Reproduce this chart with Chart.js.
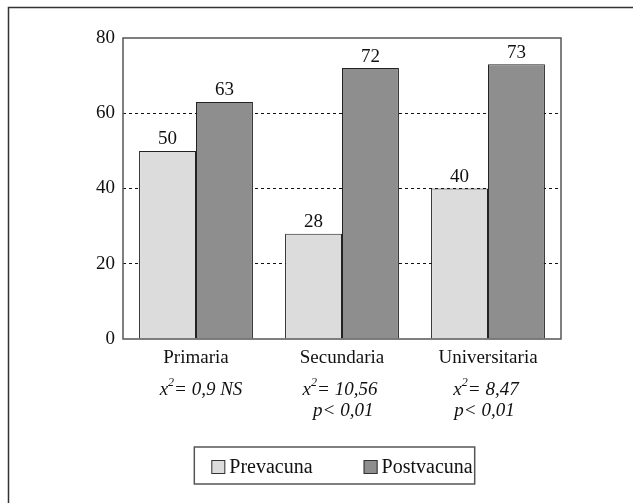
<!DOCTYPE html>
<html>
<head>
<meta charset="utf-8">
<script src="https://cdn.jsdelivr.net/npm/chart.js@4"></script>
<style>
  html, body { margin: 0; padding: 0; background: #fff; }
  #wrap { width: 633px; height: 503px; }
</style>
</head>
<body>
<div id="wrap"><canvas id="myChart" width="633" height="503"></canvas></div>
<script>
const categories = ['Primaria', 'Secundaria', 'Universitaria'];
const prevacuna = [50, 28, 40];
const postvacuna = [63, 72, 73];
const yTicks = [0, 20, 40, 60, 80];
// chi-square notes under each category
const chiValues = ['0,9 NS', '10,56', '8,47'];
const pValues = ['', 'p< 0,01', 'p< 0,01'];

const serif = '"Liberation Serif", "DejaVu Serif", serif';

// frame, plot box, value labels, chi notes and legend
const extras = {
  id: 'extras',
  afterDatasetsDraw(chart) {
    const c = chart.ctx;
    c.save();
    c.fillStyle = '#111';
    c.font = '19px ' + serif;
    c.textAlign = 'center';
    c.textBaseline = 'bottom';
    chart.data.datasets.forEach((ds, i) => {
      chart.getDatasetMeta(i).data.forEach((bar, j) => {
        c.fillText(ds.data[j], bar.x, bar.y - 2);
      });
    });
    c.restore();
  },
  afterDraw(chart) {
    const c = chart.ctx;
    const a = chart.chartArea;
    c.save();
    // outer frame (only top and left fall inside the picture)
    c.strokeStyle = '#333';
    c.lineWidth = 1.5;
    c.strokeRect(8.5, 7.5, 700, 600);
    // plot box
    c.strokeStyle = '#555';
    c.lineWidth = 1.5;
    c.strokeRect(a.left, a.top, a.right - a.left, a.bottom - a.top);

    // chi-square notes
    const xs = chart.scales.x;
    c.fillStyle = '#111';
    c.textBaseline = 'middle';
    const big = 'italic 19px ' + serif;
    const small = 'italic 12px ' + serif;
    categories.forEach((cat, i) => {
      const cx = xs.getPixelForValue(i);
      c.font = big;
      const wx = c.measureText('x').width;
      const rest = '= ' + chiValues[i];
      const wr = c.measureText(rest).width;
      c.font = small;
      const w2 = c.measureText('2').width;
      const total = wx + w2 + wr;
      const x0 = cx - total / 2 + (i === 0 ? 5 : -2);
      const y1 = 390, y2 = 411;
      c.textAlign = 'left';
      c.font = big;
      c.fillText('x', x0, y1);
      c.font = small;
      c.fillText('2', x0 + wx, y1 - 7);
      c.font = big;
      c.fillText(rest, x0 + wx + w2, y1);
      if (pValues[i]) {
        c.textAlign = 'right';
        c.fillText(pValues[i], x0 + total - 4, y2);
      }
    });

    // legend
    c.font = '20px ' + serif;
    const items = chart.data.datasets.map(ds => ({
      label: ds.label, fill: ds.backgroundColor, w: c.measureText(ds.label).width
    }));
    const box = 14, gapText = 4, gapItem = 51;
    let width = 0;
    items.forEach((it, k) => { width += box + gapText + it.w + (k ? gapItem : 0); });
    let lx = (a.left + a.right) / 2 - width / 2;
    const ly = 467;
    c.strokeStyle = '#555';
    c.lineWidth = 1.5;
    c.strokeRect(lx - 17, 447, width + 19, 37);
    c.textAlign = 'left';
    items.forEach(it => {
      c.fillStyle = it.fill;
      c.fillRect(lx, ly - box / 2, box, box);
      c.strokeStyle = '#333';
      c.lineWidth = 1;
      c.strokeRect(lx + 0.5, ly - box / 2 + 0.5, box - 1, box - 1);
      c.fillStyle = '#111';
      c.fillText(it.label, lx + box + gapText, ly + 1);
      lx += box + gapText + it.w + gapItem;
    });
    c.restore();
  }
};

new Chart(document.getElementById('myChart'), {
  type: 'bar',
  data: {
    labels: categories,
    datasets: [{
      label: 'Prevacuna',
      data: prevacuna,
      backgroundColor: '#dcdcdc',
      borderColor: '#222',
      borderWidth: 1
    }, {
      label: 'Postvacuna',
      data: postvacuna,
      backgroundColor: '#8e8e8e',
      borderColor: '#222',
      borderWidth: 1
    }]
  },
  options: {
    responsive: false,
    animation: false,
    events: [],
    layout: { padding: { top: 38, right: 72, left: 0, bottom: 0 } },
    datasets: { bar: { categoryPercentage: 0.78, barPercentage: 1 } },
    plugins: { legend: { display: false }, tooltip: { enabled: false } },
    scales: {
      x: {
        afterFit(s) { s.height = 164; },
        grid: { display: false, drawTicks: false },
        border: { display: false },
        ticks: { color: '#111', padding: 8, font: { family: serif, size: 19 } }
      },
      y: {
        min: 0,
        max: 80,
        afterFit(s) { s.width = 123; },
        afterBuildTicks(s) { s.ticks = yTicks.map(v => ({ value: v })); },
        border: { display: false, dash: [3, 3] },
        grid: {
          drawTicks: false,
          color: ctx => (ctx.tick && (ctx.tick.value === 0 || ctx.tick.value === 80)) ? 'rgba(0,0,0,0)' : '#111',
          lineWidth: 1
        },
        ticks: { color: '#111', padding: 8, font: { family: serif, size: 19 } }
      }
    }
  },
  plugins: [extras]
});
</script>
</body>
</html>
